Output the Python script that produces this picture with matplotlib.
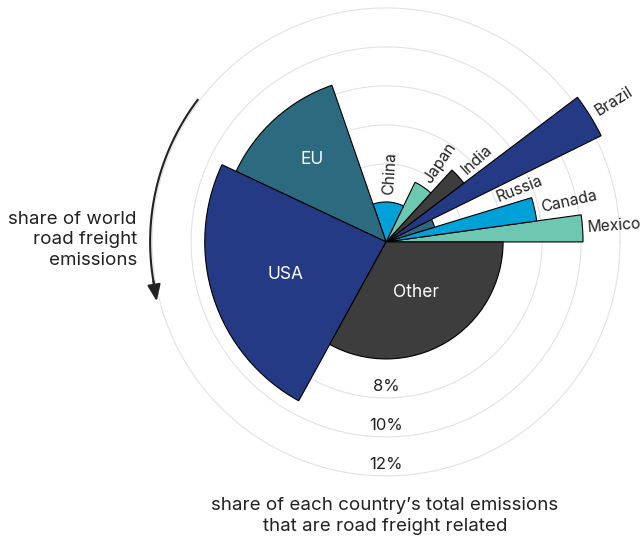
import numpy as np
import matplotlib
matplotlib.use('Agg')
import matplotlib.pyplot as plt

plt.rcParams['font.family'] = ['Inter', 'DejaVu Sans']

# --- data ---
countries = ['Mexico', 'Canada', 'Russia', 'Brazil', 'India', 'Japan', 'China', 'EU', 'USA', 'Other']
world_share = [2.2, 2.5, 2.6, 3.0, 2.9, 4.6, 12.5, 12.7, 24.0, 33.0]   # angle: % of world road freight emissions
road_share = [10.1, 7.8, 2.6, 12.3, 5.0, 3.4, 2.05, 8.5, 9.3, 6.0]     # radius: % of own emissions
grid_pcts = [2, 4, 6, 8, 10, 12]
tick_labels = ['8%', '10%', '12%']

NAVY, TEAL, CYAN, MINT, DARK = '#253a84', '#2c6a80', '#00a1d9', '#6dc7b1', '#3d3d3d'
colors = [MINT, CYAN, TEAL, NAVY, DARK, MINT, CYAN, TEAL, NAVY, DARK]
inside = {'EU': 5.7, 'USA': 5.4, 'Other': 3.0}     # labels drawn in white inside the bar
label_r = {'Russia': 6.1, 'Mexico': 10.35}         # label radius overrides

widths = np.array(world_share) / 100 * 2 * np.pi
lefts = np.concatenate([[0], np.cumsum(widths)[:-1]])

fig = plt.figure(figsize=(6.44, 5.40), dpi=100)
R = 12.6
ax = fig.add_axes([0.218, 0.097, 0.763, 0.91], projection='polar')
ax.set_ylim(0, R)
ax.set_axis_off()

# grid circles
th = np.linspace(0, 2 * np.pi, 400)
for g in grid_pcts:
    ax.plot(th, np.full_like(th, g), color='#e2e2e2', lw=0.8, zorder=0)

ax.bar(lefts, road_share, width=widths, align='edge', color=colors,
       edgecolor='black', linewidth=0.8, zorder=2)

txt = '#222222'
for c, l, w, v in zip(countries, lefts, widths, road_share):
    mid = l + w / 2
    if c in inside:
        ax.text(mid, inside[c], c, color='white', fontsize=12.5, ha='center', va='center', zorder=3)
    else:
        r = label_r.get(c, v + 0.35)
        ax.text(mid, r, c, color=txt, fontsize=11.3, ha='left', va='center',
                rotation=np.degrees(mid), rotation_mode='anchor', zorder=3)

for lab in tick_labels:
    v = float(lab.rstrip('%'))
    ax.text(np.radians(270), v - 0.6, lab, color=txt, fontsize=12, ha='center', va='center')

# arrow for angular axis
ta = np.radians(np.linspace(143, 190, 60))
ax.plot(ta, np.full_like(ta, 12.1), color='#222222', lw=1.5, zorder=3)
ax.annotate('', xy=(np.radians(194.5), 12.15), xytext=(np.radians(189.5), 12.1),
            arrowprops=dict(arrowstyle='-|>,head_length=1.0,head_width=0.4',
                            color='#222222', lw=1.5, shrinkA=0, shrinkB=0))

fig.text(137 / 644, 1 - 240 / 540, 'share of world\nroad freight\nemissions', ha='right', va='center',
         fontsize=13.5, color=txt, linespacing=1.3)
fig.text(385 / 644, 1 - 516 / 540, 'share of each country\u2019s total emissions\nthat are road freight related',
         ha='center', va='center', fontsize=13.5, color=txt, linespacing=1.3)

fig.savefig('out.png', dpi=100)
